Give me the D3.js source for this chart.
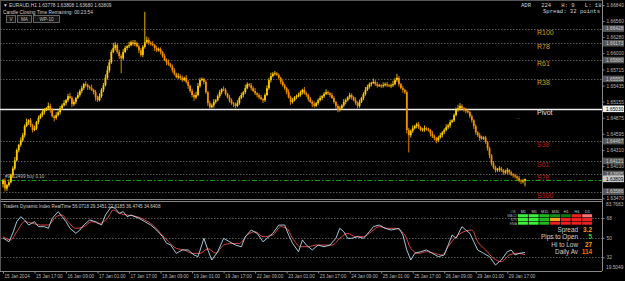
<!DOCTYPE html>
<html>
<head>
<meta charset="utf-8">
<script src="https://d3js.org/d3.v7.min.js"></script>
<style>
  body { margin: 0; background: #000; }
  svg { display: block; }
  text { font-family: "Liberation Sans", Arial, sans-serif; }
</style>
</head>
<body>
<script>
// EURAUD H1 - hourly closes
var firstOpen = 1.6372;
var closes = [
  1.6378,1.6364,1.6370,1.6375,1.6387,1.6399,1.6413,1.6431,1.6440,1.6448,
  1.6457,1.6473,1.6480,1.6483,1.6474,1.6466,1.6469,1.6480,1.6487,1.6492,
  1.6497,1.6501,1.6504,1.6508,1.6501,1.6490,1.6487,1.6492,1.6497,1.6504,
  1.6509,1.6513,1.6518,1.6525,1.6522,1.6511,1.6515,1.6522,1.6527,1.6534,
  1.6539,1.6546,1.6544,1.6541,1.6539,1.6536,1.6532,1.6523,1.6518,1.6525,
  1.6536,1.6544,1.6557,1.6570,1.6584,1.6602,1.6609,1.6614,1.6602,1.6595,
  1.6591,1.6602,1.6609,1.6612,1.6614,1.6619,1.6616,1.6618,1.6612,1.6605,
  1.6597,1.6611,1.6619,1.6623,1.6618,1.6616,1.6614,1.6609,1.6605,1.6607,
  1.6602,1.6595,1.6588,1.6584,1.6581,1.6577,1.6570,1.6564,1.6558,1.6560,
  1.6557,1.6553,1.6557,1.6550,1.6543,1.6534,1.6527,1.6523,1.6527,1.6543,
  1.6553,1.6555,1.6550,1.6532,1.6513,1.6506,1.6509,1.6515,1.6518,1.6525,
  1.6532,1.6537,1.6536,1.6529,1.6523,1.6518,1.6513,1.6511,1.6508,1.6513,
  1.6522,1.6527,1.6532,1.6539,1.6546,1.6544,1.6539,1.6534,1.6530,1.6527,
  1.6523,1.6520,1.6518,1.6527,1.6539,1.6553,1.6560,1.6564,1.6565,1.6562,
  1.6557,1.6550,1.6544,1.6539,1.6532,1.6523,1.6515,1.6518,1.6523,1.6525,
  1.6527,1.6532,1.6536,1.6530,1.6527,1.6520,1.6515,1.6511,1.6508,1.6513,
  1.6518,1.6522,1.6525,1.6529,1.6532,1.6530,1.6527,1.6522,1.6515,1.6508,
  1.6501,1.6504,1.6509,1.6515,1.6518,1.6523,1.6527,1.6523,1.6518,1.6513,
  1.6508,1.6515,1.6522,1.6529,1.6536,1.6541,1.6546,1.6548,1.6550,1.6546,
  1.6543,1.6544,1.6543,1.6544,1.6546,1.6544,1.6543,1.6544,1.6546,1.6553,
  1.6557,1.6546,1.6539,1.6536,1.6532,1.6466,1.6457,1.6464,1.6469,1.6473,
  1.6476,1.6471,1.6466,1.6467,1.6469,1.6467,1.6466,1.6460,1.6455,1.6452,
  1.6448,1.6453,1.6457,1.6462,1.6466,1.6471,1.6474,1.6480,1.6483,1.6492,
  1.6501,1.6504,1.6508,1.6504,1.6501,1.6499,1.6497,1.6490,1.6483,1.6473,
  1.6462,1.6457,1.6452,1.6453,1.6453,1.6445,1.6434,1.6422,1.6408,1.6401,
  1.6396,1.6398,1.6399,1.6396,1.6392,1.6394,1.6396,1.6392,1.6389,1.6387,
  1.6385,1.6382,1.6378,1.6377,1.63778,1.63809
];
// wick lengths in pips above / below the body
var wickUp = [
  3,4,2,5,3,4,6,3,2,5, 4,3,6,2,4,3,5,2,4,3, 5,3,2,6,4,3,2,5,3,4, 3,5,2,4,6,3,4,2,5,3,
  4,2,5,3,3,6,2,4,3,5, 3,4,6,8,5,4,9,5,3,4, 3,5,4,2,6,3,4,5,2,3, 4,3,53,6,4,3,5,2,4,3,
  3,2,4,3,5,2,3,4,2,5, 3,4,2,5,3,2,4,3,6,5, 4,3,2,3,2,4,3,5,2,3, 4,2,5,3,2,4,3,2,3,5,
  3,4,2,6,3,2,4,3,5,2, 3,4,2,3,5,4,6,3,4,2, 3,2,4,3,2,5,3,4,2,3, 4,3,2,5,3,2,4,3,5,2,
  3,4,2,3,5,3,2,4,3,2, 3,4,2,5,3,2,4,3,2,5, 3,4,2,3,5,4,3,2,6,3, 4,3,2,5,3,4,2,3,6,4,
  7,3,2,4,2,3,4,3,5,2, 3,4,2,3,5,2,3,2,4,3, 2,3,4,2,3,5,3,4,2,3, 4,6,5,3,2,4,3,2,3,2,
  3,2,4,3,2,3,2,3,2,4, 3,2,4,3,2,3,4,2,3,2, 3,2,4,2,3,0
];
var wickDn = [
  6,5,4,3,2,4,3,2,4,3, 3,4,2,5,3,4,2,3,4,2, 3,4,2,3,5,2,6,3,2,4, 3,2,4,3,2,5,3,4,2,3,
  4,3,2,5,3,2,4,6,3,2, 3,4,2,3,4,3,2,4,3,5, 26,3,2,4,3,2,3,4,2,5, 3,4,3,2,4,3,2,5,3,2,
  4,3,2,5,3,2,4,3,2,3, 4,3,2,3,5,3,4,6,3,2, 3,2,4,3,5,3,2,4,3,2, 3,4,2,3,2,4,3,5,4,2,
  3,2,4,3,2,3,4,2,3,4, 3,2,5,3,2,3,4,2,3,2, 3,4,2,3,4,2,5,3,2,3, 2,3,4,2,3,4,2,5,3,2,
  3,2,4,3,2,3,4,2,3,5, 4,3,2,3,4,2,3,4,2,3, 4,3,2,4,3,2,3,4,2,3, 3,2,4,3,2,3,2,4,3,2,
  3,4,2,5,3,6,30,4,3,2, 4,3,2,3,4,2,3,5,3,4, 5,3,2,4,3,2,3,4,2,3, 2,3,4,2,3,4,2,3,4,5,
  4,3,5,3,4,3,4,5,4,3, 4,3,5,3,4,3,5,4,3,4, 3,4,3,5,4,10
];

var dateIdx = [0,16,32,48,64,80,96,112,128,144,160,176,192,208,224,240,256];
var dateLabels = ["15 Jan 2024","15 Jan 17:00","16 Jan 09:00","17 Jan 01:00","17 Jan 17:00",
  "18 Jan 09:00","19 Jan 01:00","19 Jan 17:00","22 Jan 09:00","23 Jan 01:00","23 Jan 17:00",
  "24 Jan 09:00","25 Jan 01:00","25 Jan 17:00","26 Jan 09:00","29 Jan 01:00","29 Jan 17:00"];

var priceTicks = [1.66840,1.66560,1.66280,1.66000,1.65715,1.65435,1.65155,1.64875,1.64595,1.64310,1.64030,1.63470];

// fibonacci pivot levels
var levelNames = ["R100","R78","R61","R38","Pivot","S38","S61","S78","S100"];
var levelPrices = [1.66428,1.66173,1.65880,1.65552,1.65030,1.64467,1.64121,1.63895,1.63586];
var levelColors = ["#cfa215","#cfa215","#cfa215","#cfa215","#e4e4e4","#b81d1d","#b81d1d","#b81d1d","#cc2020"];
var orderPrice = 1.63795;
var lastPrice = 1.63809;

// Traders Dynamic Index (RSI price line + signal line)
var rsiIdx = [0,3,5,7,9,11,13,16,18,21,23,25,28,30,32,34,37,39,41,44,47,50,52,55,57,59,61,63,65,69,
  72,75,78,81,83,85,88,91,94,97,99,102,104,106,109,112,115,118,121,123,126,129,132,137,140,143,145,147,150,152,
  154,157,160,163,166,169,171,173,175,177,180,183,186,188,191,194,197,201,203,205,207,209,212,215,218,221,224,226,228,230,
  233,235,237,239,241,244,247,250,253,256,258,260,262,265];
var rsiVals = [49.8,46.4,54.4,64.8,69.4,66.3,61.7,64.8,60.2,60.2,58.7,67.9,74,69.4,64.8,58.7,54.1,57.1,61.7,66.3,
  64.8,61.7,70.9,78.5,77,72.5,74,69.4,70.9,67.9,64.8,61.7,57.1,51,45,43.6,35.7,38.8,38.8,34.2,
  32.7,49.5,38.8,29.6,37.2,49.5,46.4,43.3,41.8,51,57.1,54.1,46.4,54.1,61.7,61.7,52.6,45,37.2,48,
  43.3,38.8,43.3,41.8,43.3,49.5,58.7,55.6,49.5,49.5,51,49.5,55.6,60.2,61.7,58.7,57.1,58.7,52.6,38.8,
  29.6,35.7,37.2,38.8,35.7,32.7,34.2,43.3,52.6,49.5,60.2,57.1,54.1,46.4,38.8,35.7,32.7,25,29.6,37.2,
  38.8,34.2,35.7,36.5];
var sigIdx = [0,4,7,11,15,19,23,27,30,33,37,41,45,49,53,56,59,63,68,72,76,80,84,88,92,96,100,104,108,112,
  116,120,124,128,132,137,141,144,147,151,155,159,163,167,171,175,179,183,187,191,195,199,204,207,211,215,219,223,226,230,
  234,238,241,245,249,253,257,261,265];
var sigVals = [51,48,55.6,64.8,63.2,61.7,61.7,69.4,70.9,64.8,58.7,60.2,64.8,63.2,67.9,75.5,72.5,70.9,69.4,66.3,
  61.7,54.1,46.4,40.3,38.8,35.7,35.7,40,36,43.3,44.8,44.8,52.6,55.6,51,52.6,60.2,58.7,49.5,41.8,
  41.8,43.3,43.3,43.3,49.5,54.1,51,51,55.6,60.2,58.7,58.7,52.6,40.3,35.7,37.2,35.7,34.2,41.8,51,
  55.6,57.1,46.4,38.8,31.2,28.1,34.2,35.7,34.6];
var tdiTicks = [68, 50, 32];
var tdiMax = 83.7683, tdiMin = 19.5049;

// signal panel
var tfNames = ["M1","M5","M15","M30","H1","H4","D1"];
var rowNames = ["MACD","STR","EMA"];
var cellColors = [
  ["#3cf03c","#3cf03c","#22b822","#169016","#0b780b","#ee2020","#ff7070"],
  ["#3cf03c","#3cf03c","#22b822","#ffa51e","#ee2020","#ee2020","#ee2020"],
  ["#3cf03c","#3cf03c","#22b822","#ee2020","#ee2020","#ee2020","#ee2020"]
];
var statNames = ["Spread","Pips to Open","Hi to Low","Daily Av"];
var statVals = ["3.2","5","27","114"];
var statColors = ["#ffa000","#22dd22","#ffa000","#ff6a00"];

var w = 625, h = 281;
var plotR = 602, mainTop = 1, mainBot = 199, subTop = 201, subBot = 271;

var svg = d3.select("body").append("svg")
    .attr("width", w)
    .attr("height", h);

svg.append("rect")
    .attr("width", w)
    .attr("height", h)
    .attr("fill", "#000");

var x = d3.scaleLinear().domain([0, closes.length - 1]).range([3, 525]);
var y = d3.scaleLinear().domain([1.6347, 1.6684]).range([198.3, 5]);
var yi = d3.scaleLinear().domain([tdiMin, tdiMax]).range([subBot, subTop]);

var candles = closes.map(function(c, i) {
  var o = i === 0 ? firstOpen : closes[i - 1];
  return {
    i: i, o: o, c: c,
    h: Math.max(o, c) + wickUp[i] * 0.0001,
    l: Math.min(o, c) - wickDn[i] * 0.0001
  };
});

// frame
svg.append("line").attr("x1", 0).attr("x2", plotR).attr("y1", mainBot + 0.5).attr("y2", mainBot + 0.5)
    .attr("stroke", "#8a8a8a").attr("stroke-width", 1);
svg.append("line").attr("x1", 0).attr("x2", plotR).attr("y1", subTop + 0.5).attr("y2", subTop + 0.5)
    .attr("stroke", "#8a8a8a").attr("stroke-width", 1);
svg.append("line").attr("x1", 0).attr("x2", plotR).attr("y1", subBot + 0.5).attr("y2", subBot + 0.5)
    .attr("stroke", "#8a8a8a").attr("stroke-width", 1);
svg.append("line").attr("x1", 0.5).attr("x2", 0.5).attr("y1", 0).attr("y2", subBot)
    .attr("stroke", "#555").attr("stroke-width", 1);
svg.append("line").attr("x1", 0).attr("x2", plotR).attr("y1", 0.5).attr("y2", 0.5)
    .attr("stroke", "#555").attr("stroke-width", 1);

// fib level lines
levelPrices.forEach(function(p, k) {
  var yy = Math.round(y(p)) + 0.5;
  if (levelNames[k] === "Pivot") {
    svg.append("line").attr("x1", 0).attr("x2", plotR).attr("y1", yy).attr("y2", yy)
        .attr("stroke", "#ececec").attr("stroke-width", 1.4);
  } else {
    svg.append("line").attr("x1", 0).attr("x2", plotR).attr("y1", yy).attr("y2", yy)
        .attr("stroke", "#707070").attr("stroke-width", 0.8).attr("stroke-dasharray", "1.5,1.5");
  }
});

// open order line
var oy = Math.round(y(orderPrice)) + 0.5;
svg.append("line").attr("x1", 0).attr("x2", plotR).attr("y1", oy).attr("y2", oy)
    .attr("stroke", "#0fa00f").attr("stroke-width", 1).attr("stroke-dasharray", "5,2,1.5,2");
svg.append("text").attr("x", 5).attr("y", oy - 3)
    .attr("fill", "#b8b8b8").style("font-size", "4.6px").text("#9612499 buy 0.10");

// candles
var bull = "#ffcc00", bear = "#f59000";
var cg = svg.append("g");
cg.selectAll("line.wick").data(candles).enter().append("line")
    .attr("class", "wick")
    .attr("x1", function(d) { return x(d.i); })
    .attr("x2", function(d) { return x(d.i); })
    .attr("y1", function(d) { return y(d.h); })
    .attr("y2", function(d) { return y(d.l); })
    .attr("stroke", function(d) { return d.c >= d.o ? bull : bear; })
    .attr("stroke-width", 0.9);
cg.selectAll("rect.body").data(candles).enter().append("rect")
    .attr("class", "body")
    .attr("x", function(d) { return x(d.i) - 0.9; })
    .attr("width", 1.8)
    .attr("y", function(d) { return y(Math.max(d.o, d.c)); })
    .attr("height", function(d) { return Math.max(0.9, Math.abs(y(d.o) - y(d.c))); })
    .attr("fill", function(d) { return d.c >= d.o ? bull : bear; });

// fib labels
levelPrices.forEach(function(p, k) {
  svg.append("text")
      .attr("x", 537)
      .attr("y", y(p) + 6)
      .attr("fill", levelColors[k])
      .style("font-size", "7px")
      .text(levelNames[k]);
});
svg.append("text").attr("x", 516).attr("y", y(levelPrices[4]) + 10)
    .attr("fill", "#8a9ab0").style("font-size", "5px").text("...");

// price axis
var yAxis = d3.axisRight(y)
    .tickValues(priceTicks)
    .tickSize(2)
    .tickFormat(d3.format(".5f"));
var ya = svg.append("g").attr("transform", "translate(" + (plotR + 0.5) + ",0)").call(yAxis);
ya.select(".domain").attr("d", "M0,0V" + subBot).attr("stroke", "#8a8a8a");
ya.selectAll(".tick line").attr("stroke", "#8a8a8a");
ya.selectAll(".tick text").attr("x", 4).attr("fill", "#b8b8b8")
    .style("font-size", "4.8px").style("font-family", "Liberation Sans, Arial, sans-serif");

// level price boxes on the axis
function priceBox(p, bg, fg) {
  var yy = y(p);
  svg.append("rect").attr("x", plotR + 1).attr("y", yy - 3.3).attr("width", 21).attr("height", 6.6)
      .attr("fill", bg);
  svg.append("text").attr("x", plotR + 4).attr("y", yy + 1.8).attr("fill", fg)
      .style("font-size", "4.8px").text(d3.format(".5f")(p));
}
levelPrices.forEach(function(p, k) {
  if (levelNames[k] === "Pivot") priceBox(p, "#f0f0f0", "#000");
  else priceBox(p, "#555555", "#cfcfcf");
});
priceBox(lastPrice, "#c8c8c8", "#000");

// header texts
svg.append("text").attr("x", 3).attr("y", 7).attr("fill", "#d0d0d0").style("font-size", "4.8px")
    .text("\u25BC EURAUD,H1  1.63778 1.63808 1.63680 1.63809");
svg.append("text").attr("x", 3).attr("y", 13.5).attr("fill", "#d0d0d0").style("font-size", "4.8px")
    .text("Candle Closing Time Remaining: 00:23:54");
var buttons = [["V", 6, 9], ["MA", 17, 14], ["WP-10", 33, 26]];
buttons.forEach(function(b) {
  svg.append("rect").attr("x", b[1] + 0.5).attr("y", 15.5).attr("width", b[2]).attr("height", 7)
      .attr("fill", "#151515").attr("stroke", "#7a7a7a").attr("stroke-width", 0.8);
  svg.append("text").attr("x", b[1] + b[2] / 2 + 0.5).attr("y", 20.7).attr("text-anchor", "middle")
      .attr("fill", "#bdbdbd").style("font-size", "4.6px").text(b[0]);
});
svg.append("text").attr("x", 521).attr("y", 7).attr("fill", "#d0d0d0")
    .style("font-size", "5.6px").style("font-family", "Liberation Mono, monospace")
    .attr("xml:space", "preserve").text("ADR   224   H: 9   L: 18");
svg.append("text").attr("x", 543).attr("y", 13).attr("fill", "#d0d0d0")
    .style("font-size", "5.6px").style("font-family", "Liberation Mono, monospace")
    .attr("xml:space", "preserve").text("Spread: 32 points");

// TDI panel
tdiTicks.forEach(function(t) {
  var yy = Math.round(yi(t)) + 0.5;
  svg.append("line").attr("x1", 1).attr("x2", plotR).attr("y1", yy).attr("y2", yy)
      .attr("stroke", "#707070").attr("stroke-width", 0.8).attr("stroke-dasharray", "1.5,1.5");
});
var iAxis = d3.axisRight(yi).tickValues(tdiTicks).tickSize(2);
var ia = svg.append("g").attr("transform", "translate(" + (plotR + 0.5) + ",0)").call(iAxis);
ia.select(".domain").remove();
ia.selectAll(".tick line").attr("stroke", "#8a8a8a");
ia.selectAll(".tick text").attr("x", 4).attr("fill", "#b8b8b8")
    .style("font-size", "4.8px").style("font-family", "Liberation Sans, Arial, sans-serif");
svg.append("text").attr("x", plotR + 4).attr("y", yi(tdiMax) + 5).attr("fill", "#b8b8b8")
    .style("font-size", "4.8px").text(tdiMax.toFixed(4));
svg.append("text").attr("x", plotR + 4).attr("y", yi(tdiMin) - 2.5).attr("fill", "#b8b8b8")
    .style("font-size", "4.8px").text(tdiMin.toFixed(4));

var rsiLine = d3.line()
    .x(function(d, k) { return x(rsiIdx[k]); })
    .y(function(d) { return yi(d); });
var sigLine = d3.line()
    .x(function(d, k) { return x(sigIdx[k]); })
    .y(function(d) { return yi(d); })
    .curve(d3.curveMonotoneX);
svg.append("path").datum(sigVals).attr("d", sigLine)
    .attr("fill", "none").attr("stroke", "#e04646").attr("stroke-width", 1);
svg.append("path").datum(rsiVals).attr("d", rsiLine)
    .attr("fill", "none").attr("stroke", "#b4dcf0").attr("stroke-width", 0.9);

svg.append("text").attr("x", 3).attr("y", 207.5).attr("fill", "#cfcfcf").style("font-size", "4.6px")
    .text("Traders Dynamic Index RealTime 56.0718 29.3451 22.6185 36.4745 34.6408");

// signal table
var cx0 = 518, cw = 10.7, ry0 = 214.2, rh = 3.7;
svg.append("text").attr("x", 513).attr("y", 213).attr("text-anchor", "middle").attr("fill", "#9a9a9a")
    .style("font-size", "3.6px").text("OB");
tfNames.forEach(function(t, j) {
  svg.append("text").attr("x", cx0 + cw * j + cw / 2).attr("y", 213).attr("text-anchor", "middle")
      .attr("fill", "#c8c8c8").style("font-size", "3.8px").text(t);
});
rowNames.forEach(function(r, k) {
  svg.append("text").attr("x", cx0 - 1).attr("y", ry0 + rh * k + 2.9).attr("text-anchor", "end")
      .attr("fill", "#a8a8a8").style("font-size", "3.3px").text(r);
  cellColors[k].forEach(function(c, j) {
    svg.append("rect").attr("x", cx0 + cw * j).attr("y", ry0 + rh * k)
        .attr("width", cw - 0.8).attr("height", rh - 0.6).attr("fill", c);
  });
});
statNames.forEach(function(s, k) {
  var yy = 231.5 + k * 7.6;
  svg.append("text").attr("x", 578).attr("y", yy).attr("text-anchor", "end")
      .attr("fill", "#cfcfcf").style("font-size", "6.4px").text(s);
  svg.append("text").attr("x", 592).attr("y", yy).attr("text-anchor", "end")
      .attr("fill", statColors[k]).style("font-size", "6.4px").style("font-weight", "bold").text(statVals[k]);
});

// time axis
var xAxis = d3.axisBottom(x)
    .tickValues(dateIdx)
    .tickSize(2)
    .tickFormat(function(d, k) { return dateLabels[k]; });
var xa = svg.append("g").attr("transform", "translate(0," + (subBot + 0.5) + ")").call(xAxis);
xa.select(".domain").remove();
xa.selectAll(".tick line").attr("stroke", "#8a8a8a");
xa.selectAll(".tick text").attr("text-anchor", "start").attr("x", 1).attr("y", 3).attr("fill", "#b8b8b8")
    .style("font-size", "4.6px").style("font-family", "Liberation Sans, Arial, sans-serif");
</script>
</body>
</html>
